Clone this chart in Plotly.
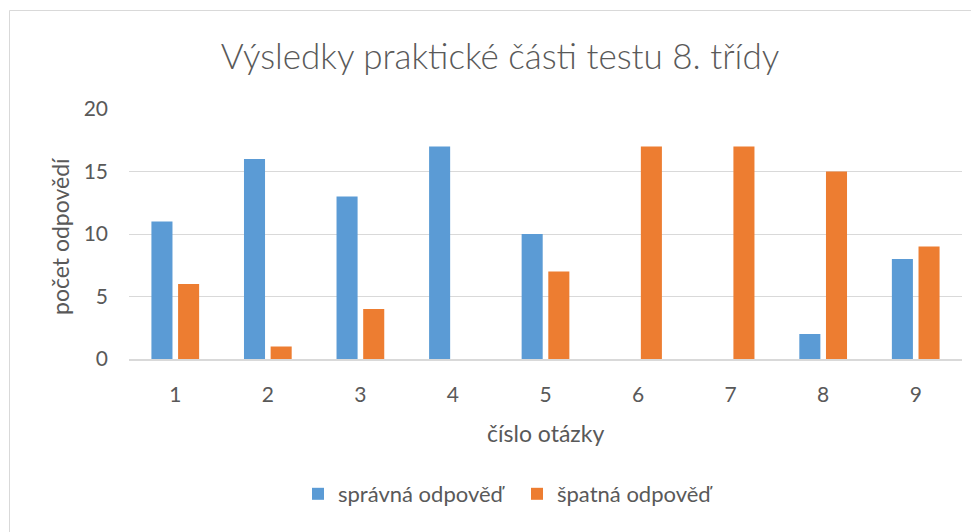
import plotly.graph_objects as go

categories = ["1", "2", "3", "4", "5", "6", "7", "8", "9"]
spravna = [11, 16, 13, 17, 10, 0, 0, 2, 8]
spatna = [6, 1, 4, 0, 7, 17, 17, 15, 9]
y_ticks = [0, 5, 10, 15, 20]

OFF = 8  # page body margin
W, H = 979 - OFF, 532 - OFF
# target screen coordinates of plot area
SL, SR, ST, SB = 129, 962, 109, 359
L, T = SL - OFF, ST - OFF
R, B = W - (SR - OFF), H - (SB - OFF)
pw, ph = W - L - R, H - T - B

def px(sx):
    return (sx - OFF - L) / pw

def py(sy):
    return (H - B - (sy - OFF)) / ph

FONT = "Lato"
GREY = "#595959"

fig = go.Figure()
fig.add_trace(go.Bar(x=categories, y=spravna, name="správná odpověď",
                     marker=dict(color="#5B9BD5", line=dict(width=0))))
fig.add_trace(go.Bar(x=categories, y=spatna, name="špatná odpověď",
                     marker=dict(color="#ED7D31", line=dict(width=0))))

fig.update_layout(
    width=W, height=H,
    margin=dict(l=L, r=R, t=T, b=B),
    paper_bgcolor="white", plot_bgcolor="white",
    barmode="group", bargap=0.424, bargroupgap=0.21,
    font=dict(family=FONT, color=GREY, size=21),
    title=dict(text="Výsledky praktické části testu 8. třídy",
               x=(500 - OFF) / W, xanchor="center", y=1 - (57 - OFF) / H, yanchor="middle",
               font=dict(size=35, color=GREY, family=FONT, weight=300)),
    xaxis=dict(showgrid=False, showline=True, linecolor="#D9D9D9", linewidth=1.5,
               ticks="", tickfont=dict(size=21), ticklabelstandoff=16),
    yaxis=dict(range=[0, 20], tickvals=y_ticks, showgrid=True, gridcolor="#D9D9D9",
               gridwidth=1, zeroline=False, showline=False, ticks="",
               tickfont=dict(size=21), ticklabelstandoff=20),
    legend=dict(orientation="h", x=px(517), xanchor="center", y=py(494),
                yanchor="middle", font=dict(size=22), traceorder="normal",
                entrywidth=174, entrywidthmode="pixels"),
    showlegend=True,
)

fig.add_annotation(text="počet odpovědí", xref="paper", yref="paper",
                   x=px(60), y=py(236), textangle=-90, showarrow=False,
                   xanchor="center", yanchor="middle", font=dict(size=23, color=GREY))
fig.add_annotation(text="číslo otázky", xref="paper", yref="paper",
                   x=px(545), y=py(433), showarrow=False,
                   xanchor="center", yanchor="middle", font=dict(size=23, color=GREY))

fig.add_shape(type="rect", xref="paper", yref="paper",
              x0=px(9.5), x1=px(976.5), y0=py(560), y1=py(10.5),
              line=dict(color="#D9D9D9", width=1), fillcolor="rgba(0,0,0,0)", layer="below")

fig.write_html("out.html")
